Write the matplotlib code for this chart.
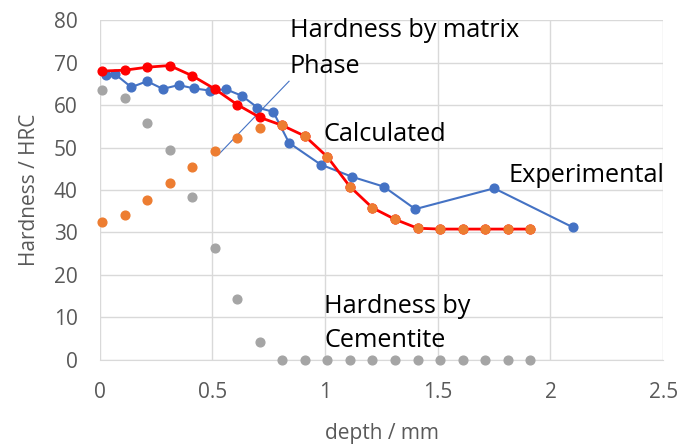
import matplotlib
matplotlib.use("Agg")
import matplotlib.pyplot as plt

# Data
depth_calc = [0.01, 0.11, 0.21, 0.31, 0.41, 0.51, 0.61, 0.71, 0.81, 0.91,
              1.01, 1.11, 1.21, 1.31, 1.41, 1.51, 1.61, 1.71, 1.81, 1.91]
hard_cementite = [63.5, 61.6, 55.8, 49.4, 38.4, 26.4, 14.3, 4.2, 0, 0,
                  0, 0, 0, 0, 0, 0, 0, 0, 0, 0]
hard_matrix = [32.4, 34.0, 37.7, 41.7, 45.5, 49.2, 52.3, 54.7, 55.2, 52.7,
               47.8, 40.8, 35.8, 33.1, 31.0, 30.8, 30.8, 30.8, 30.8, 30.8]
hard_calculated = [68.0, 68.2, 68.9, 69.3, 66.9, 63.8, 60.1, 57.1, 55.2, 52.7,
                   47.8, 40.8, 35.8, 33.1, 31.0, 30.8, 30.8, 30.8, 30.8, 30.8]
depth_exp = [0.03, 0.07, 0.14, 0.21, 0.28, 0.35, 0.42, 0.49, 0.56, 0.63,
             0.70, 0.77, 0.84, 0.98, 1.12, 1.26, 1.40, 1.75, 2.10]
hard_exp = [67.1, 67.2, 64.2, 65.6, 63.8, 64.7, 63.9, 63.4, 63.7, 62.2,
            59.4, 58.4, 51.1, 46.0, 43.1, 40.8, 35.5, 40.4, 31.2]

xticks = [0, 0.5, 1, 1.5, 2, 2.5]
xticklabels = ["0", "0.5", "1", "1.5", "2", "2.5"]
yticks = [0, 10, 20, 30, 40, 50, 60, 70, 80]

plt.rcParams['font.family'] = ['Open Sans', 'DejaVu Sans']

fig = plt.figure(figsize=(6.83, 4.46), dpi=100)
ax = fig.add_axes([0.146, 0.193, 0.825, 0.762])

blue = "#4472C4"
orange = "#ED7D31"
gray = "#A5A5A5"
red = "#FF0000"

ax.plot(depth_calc, hard_cementite, 'o', color=gray, ms=6.3, zorder=3, clip_on=False)
ax.plot(depth_exp, hard_exp, '-o', color=blue, ms=6.3, lw=1.5, zorder=4, clip_on=False)
ax.plot(depth_calc, hard_calculated, '-o', color=red, ms=6.3, lw=2, zorder=5, clip_on=False)
ax.plot(depth_calc, hard_matrix, 'o', color=orange, ms=6.3, zorder=6, clip_on=False)

ax.set_xlim(0, 2.5)
ax.set_ylim(0, 80)
ax.set_xticks(xticks)
ax.set_xticklabels(xticklabels)
ax.set_yticks(yticks)
ax.grid(True, color="#D9D9D9", lw=1)
ax.set_axisbelow(True)
for s in ['top', 'right', 'left']:
    ax.spines[s].set_visible(False)
ax.spines['bottom'].set_color("#D9D9D9")
ax.tick_params(length=0, labelsize=15, labelcolor="#595959")
ax.tick_params(axis='y', pad=16)
ax.tick_params(axis='x', pad=16)
ax.set_xlabel("depth / mm", fontsize=15, color="#595959", labelpad=14)
ax.set_ylabel("Hardness / HRC", fontsize=15, color="#595959", labelpad=10)

# annotations
fs = 18.2
ax.text(0.844, 76.0, "Hardness by matrix", fontsize=fs, color="black", va="baseline", ha="left")
ax.text(0.844, 67.5, "Phase", fontsize=fs, color="black", va="baseline", ha="left")
ax.plot([0.53, 0.84], [48.5, 65.6], color=blue, lw=0.8, zorder=2)
ax.text(0.991, 51.5, "Calculated", fontsize=fs, color="black", va="baseline", ha="left")
ax.text(1.813, 41.9, "Experimental", fontsize=fs, color="black", va="baseline", ha="left")
ax.text(0.996, 11.1, "Hardness by", fontsize=fs, color="black", va="baseline", ha="left")
ax.text(0.996, 3.1, "Cementite", fontsize=fs, color="black", va="baseline", ha="left")

fig.savefig("out.png", dpi=100)
